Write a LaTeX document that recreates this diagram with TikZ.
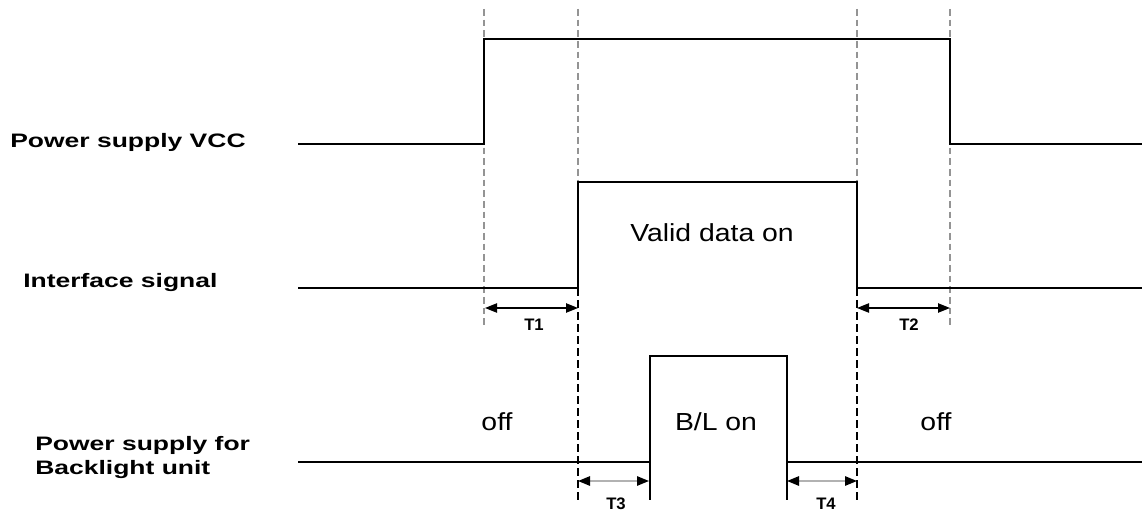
\documentclass[tikz,border=0pt]{standalone}
\usepackage{fontspec}
\usepackage{graphicx}
\setmainfont{Liberation Sans}
\usetikzlibrary{arrows.meta}
\newcommand\hstretch[2]{\scalebox{#1}[1]{#2}}
\begin{document}
\begin{tikzpicture}[x=0.75pt,y=-0.75pt,
  sig/.style={line width=1.2pt,black},
  guide/.style={draw=black!42, line width=0.8pt, dash pattern=on 5pt off 3pt},
  guideblk/.style={draw=black, line width=0.8pt, dash pattern=on 6pt off 3pt},
  dimarr/.style={line width=1pt,{Triangle[length=9pt,width=7pt]}-{Triangle[length=9pt,width=7pt]}},
  dimarrgray/.style={line width=1.3pt, draw=black!30,
     {Triangle[length=9pt,width=7pt,color=black]}-{Triangle[length=9pt,width=7pt,color=black]}},
  lbl/.style={font=\fontsize{14.6}{16}\selectfont\bfseries, anchor=base west, inner sep=0pt},
  tlbl/.style={font=\fontsize{12.5}{14}\selectfont\bfseries, anchor=base, inner sep=0pt},
  inlbl/.style={font=\fontsize{18.5}{20}\selectfont, anchor=base, inner sep=0pt}
]
\useasboundingbox (0,0) rectangle (1142,513);

% guide lines
\draw[guide] (484,9) -- (484,328);
\draw[guide] (578,9) -- (578,182);
\draw[guide] (857,9) -- (857,182);
\draw[guide] (950,9) -- (950,328);
\draw[guideblk] (578,288) -- (578,500);
\draw[guideblk] (857,288) -- (857,500);

% signals
\draw[sig] (298,144) -- (484,144) -- (484,39) -- (950,39) -- (950,144) -- (1142,144);
\draw[sig] (298,288) -- (578,288) -- (578,182) -- (857,182) -- (857,288) -- (1142,288);
\draw[sig] (298,462) -- (650,462) -- (650,356) -- (787,356) -- (787,462) -- (1142,462);
\draw[sig] (650,462) -- (650,500);
\draw[sig] (787,462) -- (787,500);

% labels
\node[lbl] (lvcc) at (10,148) {\hstretch{1.36}{Power supply VCC}};
\node[lbl] (lif) at (23,287) {\hstretch{1.36}{Interface signal}};
\node[lbl] (lbl1) at (35,450) {\hstretch{1.36}{Power supply for}};
\node[lbl] (lbl2) at (35,474) {\hstretch{1.36}{Backlight unit}};

\node[inlbl] (valid) at (712,242) {\hstretch{1.15}{Valid data on}};
\node[inlbl] (blon) at (716,430) {\hstretch{1.15}{B/L on}};
\node[inlbl] (off1) at (497,430) {\hstretch{1.15}{off}};
\node[inlbl] (off2) at (936,430) {\hstretch{1.15}{off}};

% timing arrows
\coordinate (t1a) at (485,308); \coordinate (t1b) at (578,308);
\coordinate (t2a) at (857,308); \coordinate (t2b) at (950,308);
\coordinate (t3a) at (578,481); \coordinate (t3b) at (649,481);
\coordinate (t4a) at (787,481); \coordinate (t4b) at (857,481);
\draw[dimarr] (t1a) -- (t1b);
\draw[dimarr] (t2a) -- (t2b);
\draw[dimarrgray] (t3a) -- (t3b);
\draw[dimarrgray] (t4a) -- (t4b);
\node[tlbl] (T1) at (534,330) {T1};
\node[tlbl] (T2) at (909,330) {T2};
\node[tlbl] (T3) at (616,509) {T3};
\node[tlbl] (T4) at (826,509) {T4};
\end{tikzpicture}
\end{document}
